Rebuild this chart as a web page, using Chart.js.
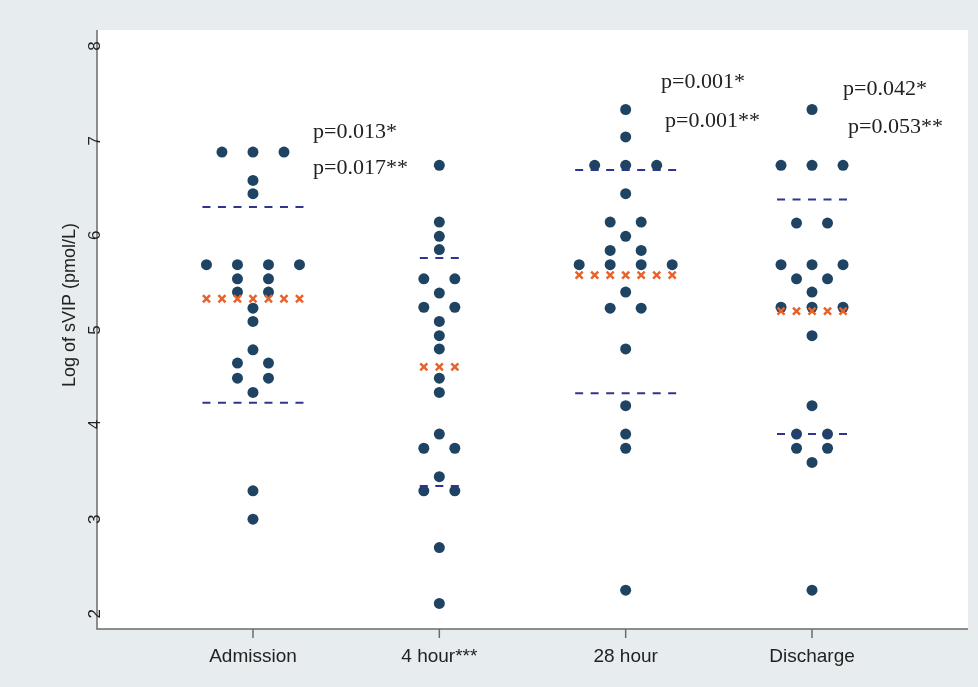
<!DOCTYPE html>
<html>
<head>
<meta charset="utf-8">
<script src="https://cdn.jsdelivr.net/npm/chart.js@4/dist/chart.umd.min.js"></script>
<style>
  html, body { margin: 0; padding: 0; background: #e7edef; }
</style>
</head>
<body>
<canvas id="myChart" width="978" height="687"></canvas>
<script>
// values (log sVIP, pmol/L)
const categories = ['Admission', '4 hour***', '28 hour', 'Discharge'];
const admission = [6.88, 6.88, 6.88, 6.58, 6.44, 5.69, 5.69, 5.69, 5.69, 5.54, 5.54,
  5.40, 5.40, 5.23, 5.09, 4.79, 4.65, 4.65, 4.49, 4.49, 4.34, 3.30, 3.00];
const hour4 = [6.74, 6.14, 5.99, 5.85, 5.54, 5.54, 5.39, 5.24, 5.24, 5.09, 4.94, 4.80,
  4.49, 4.34, 3.90, 3.75, 3.75, 3.45, 3.30, 3.30, 2.70, 2.11];
const hour28 = [7.33, 7.04, 6.74, 6.74, 6.74, 6.44, 6.14, 6.14, 5.99, 5.84, 5.84,
  5.69, 5.69, 5.69, 5.69, 5.40, 5.23, 5.23, 4.80, 4.20, 3.90, 3.75, 2.25];
const discharge = [7.33, 6.74, 6.74, 6.74, 6.13, 6.13, 5.69, 5.69, 5.69, 5.54, 5.54,
  5.40, 5.24, 5.24, 5.24, 4.94, 4.20, 3.90, 3.90, 3.75, 3.75, 3.60, 2.25];
const groupMeans = [5.33, 4.61, 5.58, 5.20];
const sdUpper = [6.30, 5.76, 6.69, 6.38];
const sdLower = [4.23, 3.35, 4.33, 3.90];
const yTicks = [2, 3, 4, 5, 6, 7, 8];
const pTexts = ['p=0.013*', 'p=0.017**', 'p=0.001*', 'p=0.001**', 'p=0.042*', 'p=0.053**'];

const groups = [admission, hour4, hour28, discharge];
const halfStep = 0.0832;   // horizontal dot spacing (half column)
const dashPad = 0.0215;

const dotColor = '#1f4463';
const meanColor = '#e8632c';
const sdColor = '#30348f';

let dots = [];
let means = [];
let sdSets = [];
groups.forEach((values, g) => {
  const center = g + 1;
  const counts = {};
  values.forEach(v => counts[v] = (counts[v] || 0) + 1);
  const seen = {};
  values.forEach(v => {
    seen[v] = seen[v] === undefined ? 0 : seen[v] + 1;
    dots.push({ x: center + (2 * seen[v] - (counts[v] - 1)) * halfStep, y: v });
  });
  const maxN = Math.max(...Object.values(counts));
  for (let k = -(maxN - 1); k <= maxN - 1; k++) {
    means.push({ x: center + k * halfStep, y: groupMeans[g] });
  }
  const half = (maxN - 1) * halfStep + dashPad;
  [sdUpper[g], sdLower[g]].forEach(level => {
    sdSets.push({
      data: [{ x: center - half, y: level }, { x: center + half, y: level }],
      showLine: true,
      borderColor: sdColor,
      borderWidth: 2,
      borderDash: [8, 7.5],
      pointRadius: 0,
      order: 2
    });
  });
});

// text positions in pixels
const pPos = [[313, 138], [313, 174], [661, 88], [665, 127], [843, 95], [848, 133]];

const frame = {
  id: 'frame',
  beforeDraw(chart) {
    const { ctx, chartArea: a } = chart;
    ctx.save();
    ctx.fillStyle = '#e7edef';
    ctx.fillRect(0, 0, chart.width, chart.height);
    ctx.fillStyle = '#ffffff';
    ctx.fillRect(a.left, a.top, a.right - a.left, a.bottom - a.top);
    ctx.restore();
  },
  afterDraw(chart) {
    const { ctx, chartArea: a, scales } = chart;
    ctx.save();
    ctx.strokeStyle = '#6b6b6b';
    ctx.lineWidth = 1.5;
    ctx.beginPath();
    ctx.moveTo(a.left, a.top);
    ctx.lineTo(a.left, a.bottom);
    ctx.lineTo(a.right, a.bottom);
    ctx.stroke();

    // x ticks and labels
    ctx.fillStyle = '#222';
    ctx.font = '19px "Liberation Sans", Arial, sans-serif';
    ctx.textAlign = 'center';
    ctx.textBaseline = 'middle';
    categories.forEach((c, i) => {
      const px = scales.x.getPixelForValue(i + 1);
      ctx.beginPath();
      ctx.moveTo(px, a.bottom);
      ctx.lineTo(px, a.bottom + 9);
      ctx.stroke();
      ctx.fillText(c, px, 657);
    });

    // y ticks, rotated
    ctx.font = '17px "Liberation Sans", Arial, sans-serif';
    yTicks.forEach(t => {
      const py = scales.y.getPixelForValue(t);
      ctx.save();
      ctx.translate(95, py);
      ctx.rotate(-Math.PI / 2);
      ctx.fillText(String(t), 0, 0);
      ctx.restore();
    });

    ctx.font = '18px "Liberation Sans", Arial, sans-serif';
    ctx.save();
    ctx.translate(70, 305);
    ctx.rotate(-Math.PI / 2);
    ctx.fillText('Log of sVIP (pmol/L)', 0, 0);
    ctx.restore();

    // p values
    ctx.font = '22px "Liberation Serif", "Times New Roman", serif';
    ctx.textAlign = 'left';
    ctx.textBaseline = 'alphabetic';
    pTexts.forEach((t, i) => ctx.fillText(t, pPos[i][0], pPos[i][1]));
    ctx.restore();
  }
};

const ctx = document.getElementById('myChart').getContext('2d');
const myGraph = new Chart(ctx, {
  type: 'scatter',
  data: {
    datasets: [
      {
        label: 'sVIP',
        data: dots,
        backgroundColor: dotColor,
        borderColor: dotColor,
        pointRadius: 5.5,
        borderWidth: 0,
        order: 3
      },
      ...sdSets,
      {
        label: 'Mean',
        data: means,
        pointStyle: 'crossRot',
        pointRadius: 5,
        borderWidth: 2.5,
        borderColor: meanColor,
        backgroundColor: meanColor,
        order: 1
      }
    ]
  },
  options: {
    responsive: false,
    animation: false,
    layout: { padding: { left: 97, right: 10, top: 30, bottom: 58 } },
    plugins: { legend: { display: false }, tooltip: { enabled: false } },
    scales: {
      x: { type: 'linear', min: 0.163, max: 4.837, display: false },
      y: { type: 'linear', min: 1.84, max: 8.17, display: false }
    }
  },
  plugins: [frame]
});
</script>
</body>
</html>
